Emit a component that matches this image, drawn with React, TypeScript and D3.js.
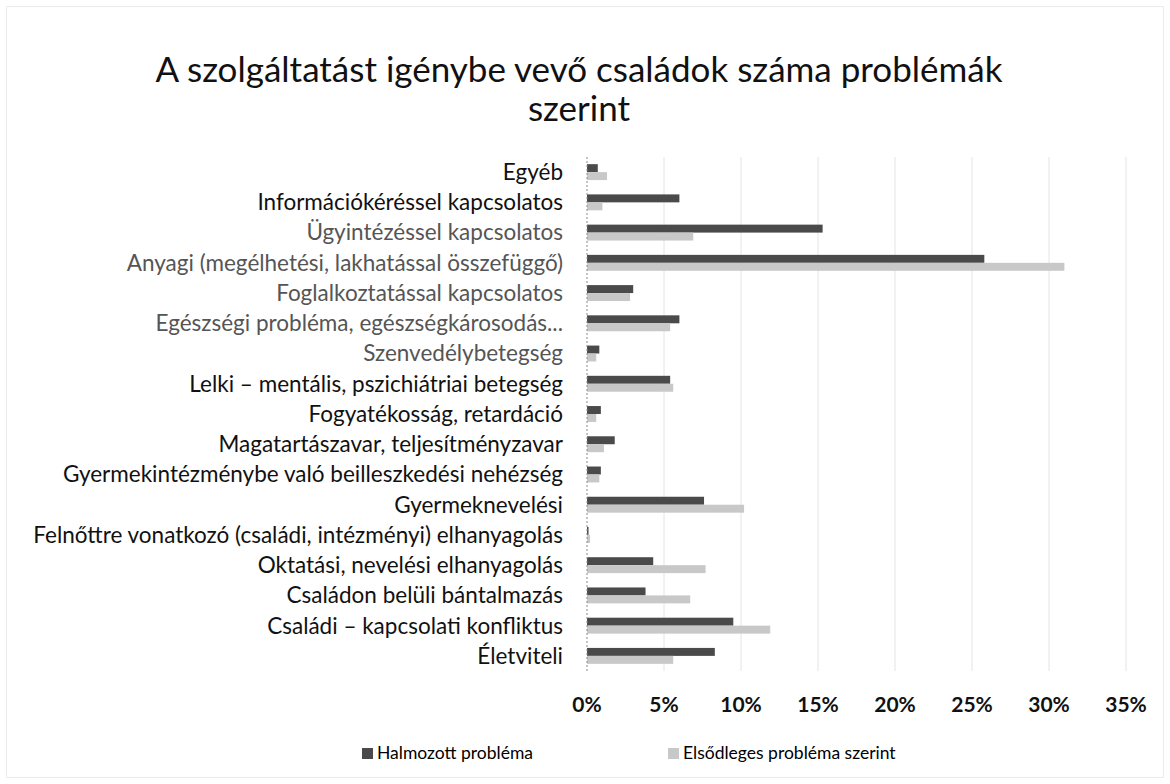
import React, { useEffect, useRef } from 'react';
import * as d3 from 'd3';

// categories, top to bottom as shown
const categories: string[] = [
  "Egyéb",
  "Információkéréssel kapcsolatos",
  "Ügyintézéssel kapcsolatos",
  "Anyagi (megélhetési, lakhatással összefüggő)",
  "Foglalkoztatással kapcsolatos",
  "Egészségi probléma, egészségkárosodás...",
  "Szenvedélybetegség",
  "Lelki – mentális, pszichiátriai betegség",
  "Fogyatékosság, retardáció",
  "Magatartászavar, teljesítményzavar",
  "Gyermekintézménybe való beilleszkedési nehézség",
  "Gyermeknevelési",
  "Felnőttre vonatkozó (családi, intézményi) elhanyagolás",
  "Oktatási, nevelési elhanyagolás",
  "Családon belüli bántalmazás",
  "Családi – kapcsolati konfliktus",
  "Életviteli",
];

// percent values
const halmozott: number[] = [0.7, 6.0, 15.3, 25.8, 3.0, 6.0, 0.8, 5.4, 0.9, 1.8, 0.9, 7.6, 0.1, 4.3, 3.8, 9.5, 8.3];
const elsodleges: number[] = [1.3, 1.0, 6.9, 31.0, 2.8, 5.4, 0.6, 5.6, 0.6, 1.1, 0.8, 10.2, 0.2, 7.7, 6.7, 11.9, 5.6];

const xTicks: number[] = [0, 5, 10, 15, 20, 25, 30, 35];
const seriesNames: string[] = ["Halmozott probléma", "Elsődleges probléma szerint"];
const seriesColors: string[] = ["#4a4a4a", "#c8c8c8"];

// labels that came out grey in the scan
const greyLabels = new Set<string>([
  "Ügyintézéssel kapcsolatos",
  "Anyagi (megélhetési, lakhatással összefüggő)",
  "Foglalkoztatással kapcsolatos",
  "Egészségi probléma, egészségkárosodás...",
  "Szenvedélybetegség",
]);

const W = 1170;
const H = 784;
const FONT = "Lato, 'Open Sans', sans-serif";

const App: React.FC = () => {
  const svgRef = useRef<SVGSVGElement>(null);

  useEffect(() => {
    if (!svgRef.current) return;
    const svg = d3.select(svgRef.current);
    svg.selectAll("*").remove();

    const margin = { top: 157, left: 587, right: 1126, bottom: 671 };

    const x = d3.scaleLinear().domain([0, 35]).range([margin.left, margin.right]);
    const y = d3.scaleBand<string>().domain(categories).range([margin.top, margin.bottom]);
    const ySub = d3.scaleBand<string>()
      .domain(seriesNames)
      .range([0, y.bandwidth()])
      .paddingOuter(0.9);

    // background + faint frame
    svg.append("rect")
      .attr("x", 0).attr("y", 0).attr("width", W).attr("height", H)
      .attr("fill", "#fff");
    svg.append("rect")
      .attr("x", 6.5).attr("y", 6.5).attr("width", W - 13).attr("height", H - 13)
      .attr("fill", "none").attr("stroke", "#ececec");

    // title
    const title = svg.append("text")
      .attr("text-anchor", "middle")
      .attr("font-family", FONT)
      .attr("font-size", 35)
      .attr("fill", "#111");
    title.append("tspan").attr("x", 579).attr("y", 82)
      .text("A szolgáltatást igénybe vevő családok száma problémák");
    title.append("tspan").attr("x", 579).attr("y", 121).text("szerint");

    // gridlines
    svg.append("g")
      .selectAll("line")
      .data(xTicks.filter(t => t > 0))
      .join("line")
      .attr("x1", d => x(d)).attr("x2", d => x(d))
      .attr("y1", margin.top).attr("y2", margin.bottom)
      .attr("stroke", "#e4e4e4")
      .attr("stroke-width", 1);

    // bars
    const rows = svg.append("g")
      .selectAll("g")
      .data(categories.map((c, i) => ({ c, vals: [halmozott[i], elsodleges[i]] })))
      .join("g")
      .attr("transform", d => `translate(0,${y(d.c)})`);

    rows.selectAll("rect")
      .data(d => d.vals.map((v, j) => ({ v, s: seriesNames[j], j })))
      .join("rect")
      .attr("x", x(0))
      .attr("y", d => ySub(d.s)!)
      .attr("width", d => x(d.v) - x(0))
      .attr("height", ySub.bandwidth())
      .attr("fill", d => seriesColors[d.j]);

    // vertical axis line
    svg.append("line")
      .attr("x1", x(0)).attr("x2", x(0))
      .attr("y1", margin.top).attr("y2", margin.bottom)
      .attr("stroke", "#8a8a8a")
      .attr("stroke-dasharray", "2,2");

    // category labels
    svg.append("g")
      .selectAll("text")
      .data(categories)
      .join("text")
      .attr("x", 563)
      .attr("y", d => y(d)! + y.bandwidth() / 2)
      .attr("dy", "0.35em")
      .attr("text-anchor", "end")
      .attr("font-family", FONT)
      .attr("font-size", 22.5)
      .attr("fill", d => greyLabels.has(d) ? "#555" : "#111")
      .text(d => d);

    // x tick labels
    svg.append("g")
      .selectAll("text")
      .data(xTicks)
      .join("text")
      .attr("x", d => x(d))
      .attr("y", 712)
      .attr("text-anchor", "middle")
      .attr("font-family", FONT)
      .attr("font-weight", 700)
      .attr("font-size", 21)
      .attr("fill", "#111")
      .text(d => `${d}%`);

    // legend
    const legendX = [362, 668];
    const legend = svg.append("g")
      .selectAll("g")
      .data(seriesNames)
      .join("g")
      .attr("transform", (d, i) => `translate(${legendX[i]},753)`);
    legend.append("rect")
      .attr("x", 0).attr("y", -5)
      .attr("width", 11).attr("height", 11)
      .attr("fill", (d, i) => seriesColors[i]);
    legend.append("text")
      .attr("x", 15).attr("y", 0)
      .attr("dy", "0.35em")
      .attr("font-family", FONT)
      .attr("font-size", 17.5)
      .attr("fill", "#000")
      .text(d => d);
  }, []);

  return (
    <svg
      ref={svgRef}
      width={W}
      height={H}
      viewBox={`0 0 ${W} ${H}`}
      style={{ position: 'absolute', left: 0, top: 0 }}
    />
  );
};

export default App;
